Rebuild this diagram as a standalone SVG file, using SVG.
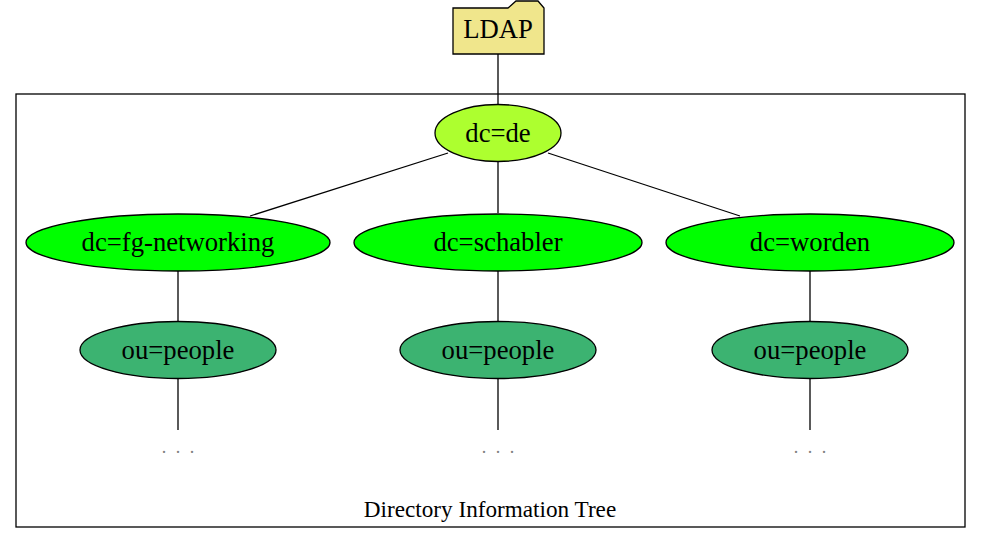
<svg xmlns="http://www.w3.org/2000/svg" width="981" height="545" viewBox="0 0 981 545">
<style>
text{font-family:"Liberation Serif","Times New Roman",serif;text-anchor:middle;fill:#000}
.n{font-size:26.7px}
.c{font-size:23.2px}
.e{stroke:#000;stroke-width:1.3;fill:none}
ellipse,.sh{stroke:#000;stroke-width:1.3}
.l1{fill:#adff2f}
.l2{fill:#00ff00}
.l3{fill:#3cb371}
.dots{fill:#808080;font-size:18px;word-spacing:5px}
</style>
<rect width="981" height="545" fill="#fff"/>
<g id="cluster">
<rect x="16" y="94" width="949" height="433" fill="none" stroke="#000" stroke-width="1.3"/>
<text class="c" x="490" y="517">Directory Information Tree</text>
</g>
<g id="edges">
<line class="e" x1="498" y1="54" x2="498" y2="104"/>
<line class="e" x1="448" y1="153" x2="250" y2="216"/>
<line class="e" x1="498" y1="162" x2="498" y2="213"/>
<line class="e" x1="548" y1="153" x2="740" y2="216"/>
<line class="e" x1="178" y1="271" x2="178" y2="321"/>
<line class="e" x1="498" y1="271" x2="498" y2="321"/>
<line class="e" x1="810" y1="271" x2="810" y2="321"/>
<line class="e" x1="178" y1="379" x2="178" y2="430"/>
<line class="e" x1="498" y1="379" x2="498" y2="430"/>
<line class="e" x1="810" y1="379" x2="810" y2="430"/>
</g>
<g id="ldap">
<path class="sh" fill="#f0e68c" d="M453,8 L508,8 L516,1 L538,1 L544,8 L544,54 L453,54 Z"/>
<text class="n" x="498" y="38">LDAP</text>
</g>
<g id="dc_de">
<ellipse class="l1" cx="498" cy="133" rx="63" ry="28.5"/>
<text class="n" x="498" y="142">dc=de</text>
</g>
<g id="dc_fg">
<ellipse class="l2" cx="178" cy="242.5" rx="152" ry="28.5"/>
<text class="n" x="178" y="251">dc=fg-networking</text>
</g>
<g id="dc_schabler">
<ellipse class="l2" cx="498" cy="242.5" rx="144" ry="28.5"/>
<text class="n" x="498" y="251">dc=schabler</text>
</g>
<g id="dc_worden">
<ellipse class="l2" cx="810" cy="242.5" rx="144" ry="28.5"/>
<text class="n" x="810" y="251">dc=worden</text>
</g>
<g id="ou_fg">
<ellipse class="l3" cx="178" cy="350" rx="98" ry="28.5"/>
<text class="n" x="178" y="359">ou=people</text>
</g>
<g id="ou_schabler">
<ellipse class="l3" cx="498" cy="350" rx="98" ry="28.5"/>
<text class="n" x="498" y="359">ou=people</text>
</g>
<g id="ou_worden">
<ellipse class="l3" cx="810" cy="350" rx="98" ry="28.5"/>
<text class="n" x="810" y="359">ou=people</text>
</g>
<g id="dots_fg"><text class="dots" x="178" y="453">. . .</text></g>
<g id="dots_schabler"><text class="dots" x="498" y="453">. . .</text></g>
<g id="dots_worden"><text class="dots" x="810" y="453">. . .</text></g>
</svg>
